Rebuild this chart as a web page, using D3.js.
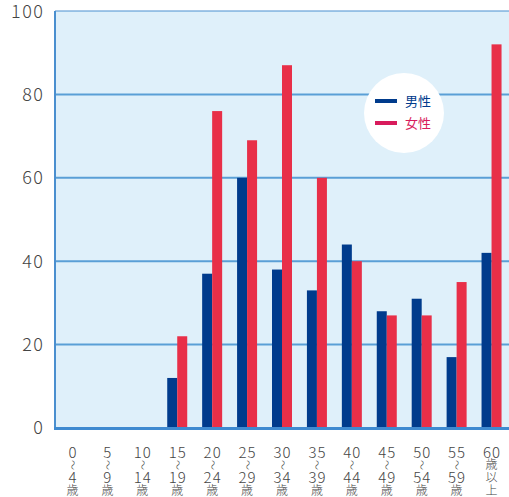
<!DOCTYPE html>
<html lang='ja'>
<head>
	<meta charset='UTF-8'>
	<title>Document</title>
	<style>
		body { margin: 0; background: #fff; }
		text { font-family: 'Noto Sans CJK JP', 'Noto Sans', sans-serif; }
	</style>
</head>
<body>

<svg></svg>

<script src='https://d3js.org/d3.v7.min.js'></script>
<script>
// age groups, top line / bottom line of each label
const ageFrom = ['0', '5', '10', '15', '20', '25', '30', '35', '40', '45', '50', '55', '60']
const ageTo = ['4', '9', '14', '19', '24', '29', '34', '39', '44', '49', '54', '59', '']
const male = [0, 0, 0, 12, 37, 60, 38, 33, 44, 28, 31, 17, 42]
const female = [0, 0, 0, 22, 76, 69, 87, 60, 40, 27, 27, 35, 92]
const yTicks = [0, 20, 40, 60, 80, 100]
const seriesNames = ['男性', '女性']

const width = 509
const height = 497
const pLeft = 55, pRight = 509, pTop = 11, pBottom = 428

const svg = d3.select('svg')
	.attr('width', width)
	.attr('height', height)

const x = d3.scaleBand()
	.domain(d3.range(ageFrom.length))
	.range([pLeft, pRight])

const y = d3.scaleLinear()
	.domain([0, 100])
	.range([pBottom, pTop])

// background
svg.append('rect')
	.attr('x', pLeft).attr('y', pTop)
	.attr('width', pRight - pLeft).attr('height', pBottom - pTop)
	.attr('fill', '#dff0fa')

// grid
svg.append('g')
	.selectAll('line')
	.data(yTicks.filter(d => d > 0))
	.join('line')
	.attr('x1', pLeft).attr('x2', pRight)
	.attr('y1', d => y(d)).attr('y2', d => y(d))
	.attr('stroke', d => d == 100 ? '#4a8fcf' : '#5a9fd6')
	.attr('stroke-width', d => d == 100 ? 1 : 2)

svg.append('line')
	.attr('x1', pLeft).attr('x2', pLeft)
	.attr('y1', pTop).attr('y2', pBottom)
	.attr('stroke', '#4a8fcf')
	.attr('stroke-width', 2)

// y labels
svg.append('g')
	.selectAll('text')
	.data(yTicks)
	.join('text')
	.attr('x', 44.5)
	.attr('y', d => y(d) + (d == 100 ? 1 : 0))
	.attr('dy', '0.35em')
	.attr('text-anchor', 'end')
	.attr('font-size', 18)
	.attr('letter-spacing', 1.5)
	.attr('font-weight', 300)
	.attr('fill', '#444')
	.text(d => d)

// bars
const bw = 10
const groups = svg.append('g')
	.selectAll('g')
	.data(d3.range(ageFrom.length))
	.join('g')

groups.append('rect')
	.attr('x', i => x(i) + x.bandwidth() / 2 - bw)
	.attr('y', i => y(male[i]))
	.attr('width', bw)
	.attr('height', i => y(0) - y(male[i]))
	.attr('fill', '#003b8c')

groups.append('rect')
	.attr('x', i => x(i) + x.bandwidth() / 2)
	.attr('y', i => y(female[i]))
	.attr('width', bw)
	.attr('height', i => y(0) - y(female[i]))
	.attr('fill', '#e82f48')

// bottom axis line
svg.append('line')
	.attr('x1', pLeft - 1).attr('x2', pRight)
	.attr('y1', pBottom + 0.5).attr('y2', pBottom + 0.5)
	.attr('stroke', '#3f8ad0')
	.attr('stroke-width', 3)

// x labels
const xl = svg.append('g')
	.selectAll('g')
	.data(d3.range(ageFrom.length))
	.join('g')
	.attr('transform', i => `translate(${x(i) + x.bandwidth() / 2},0)`)
	.attr('fill', '#444')
	.attr('font-weight', 300)
	.attr('text-anchor', 'middle')

xl.each(function(i) {
	const g = d3.select(this)
	const lines = ageTo[i] ? [ageFrom[i], '〜', ageTo[i], '歳'] : [ageFrom[i], '歳', '以', '上']
	const ys = [452.5, 465, 477.5, 490.5]
	lines.forEach((t, k) => {
		const ty = ys[k]
		if (t == '〜') {
			g.append('text')
				.attr('transform', `translate(0,${ty}) rotate(90)`)
				.attr('dy', '0.35em')
				.attr('font-size', 10)
				.text(t)
		} else {
			const isNum = /\d/.test(t)
			g.append('text')
				.attr('x', isNum && t.length > 1 ? 0.5 : 0)
				.attr('y', ty)
				.attr('dy', '0.35em')
				.attr('font-size', isNum ? 15 : 12)
				.attr('letter-spacing', isNum && t.length > 1 ? 1 : 0)
				.text(t)
		}
	})
})

// legend
svg.append('circle')
	.attr('cx', 404).attr('cy', 113).attr('r', 40)
	.attr('fill', '#fff')
const legColors = ['#003b8c', '#d81b5c']
const leg = svg.append('g')
	.selectAll('g')
	.data(seriesNames)
	.join('g')
	.attr('transform', (d, i) => `translate(0,${101 + i * 22})`)
leg.append('line')
	.attr('x1', 375).attr('x2', 397)
	.attr('stroke', (d, i) => legColors[i])
	.attr('stroke-width', 4)
leg.append('text')
	.attr('x', 405)
	.attr('dy', '0.35em')
	.attr('font-size', 13)
	.attr('fill', (d, i) => legColors[i])
	.text(d => d)
</script>
</body>
</html>
